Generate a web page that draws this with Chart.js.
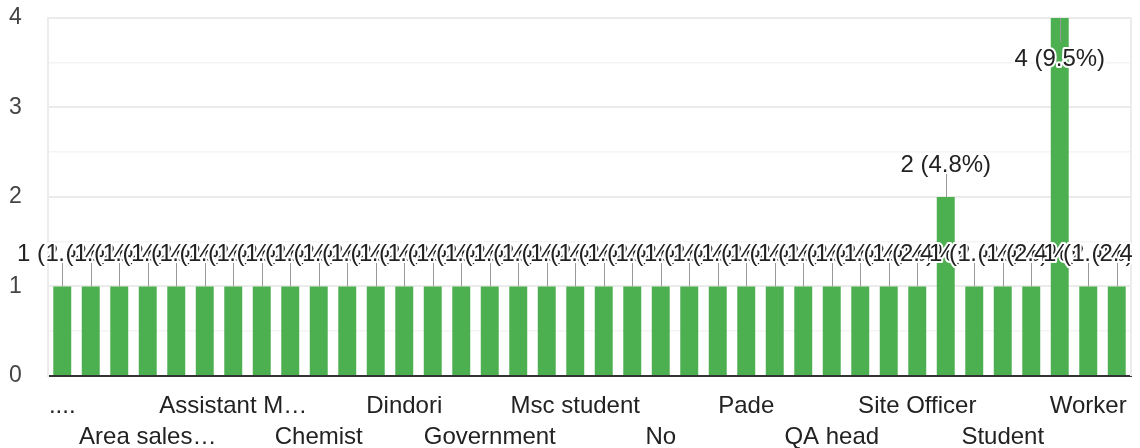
<!DOCTYPE html>
<html>
<head>
<meta charset="utf-8">
<script src="https://cdn.jsdelivr.net/npm/chart.js@4"></script>
<style>
  html, body { margin: 0; padding: 0; background: #fff; }
  #wrap { width: 1140px; height: 448px; position: relative; }
</style>
</head>
<body>
<div id="wrap"><canvas id="myChart"></canvas></div>
<script>
// respuestas (ordenadas alfabeticamente, solo cada tercera etiqueta se ve)
const categorias = [
    "....", "Accountant", "Agriculture", "Area sales…", "Assistant", "Assistant E…",
    "Assistant M…", "Business", "Businessman", "Chemist", "Clerk", "Developer",
    "Dindori", "Engineer", "Farmer", "Government", "Housewife", "Manager",
    "Msc student", "Nashik", "Nil", "No", "Nothing", "Officer",
    "Pade", "Private job", "Production", "QA head", "QC", "Sales",
    "Site Officer", "Software…", "Staff", "Student", "Supervisor", "Teacher",
    "Worker", "Working"
];
const conteos = [
    1, 1, 1, 1, 1, 1,
    1, 1, 1, 1, 1, 1,
    1, 1, 1, 1, 1, 1,
    1, 1, 1, 1, 1, 1,
    1, 1, 1, 1, 1, 1,
    1, 2, 1, 1, 1, 4,
    1, 1
];
const ticksY = [0, 1, 2, 3, 4];
const cadaEtiqueta = 3;

const total = conteos.reduce((a, b) => a + b, 0);
const fuente = "'Liberation Sans', Arial, sans-serif";

// etiquetas "n (x%)" encima de cada barra, con linea guia
const anotaciones = {
    id: "anotaciones",
    afterDatasetsDraw(chart) {
        const ctx = chart.ctx;
        const area = chart.chartArea;
        const meta = chart.getDatasetMeta(0);
        ctx.save();
        ctx.beginPath();
        ctx.rect(0, 0, area.right + 1, chart.height);
        ctx.clip();
        // lineas guia
        ctx.strokeStyle = "#999999";
        ctx.lineWidth = 1;
        meta.data.forEach((bar) => {
            const arriba = bar.y - 46 >= area.top;
            const x = Math.round(bar.x) + 0.5;
            ctx.beginPath();
            ctx.moveTo(x, bar.y);
            ctx.lineTo(x, arriba ? bar.y - 24 : bar.y + 24);
            ctx.stroke();
        });
        // textos
        ctx.font = "24px " + fuente;
        ctx.textAlign = "center";
        ctx.textBaseline = "middle";
        ctx.lineJoin = "round";
        meta.data.forEach((bar, i) => {
            const v = conteos[i];
            const texto = v + " (" + (v / total * 100).toFixed(1) + "%)";
            const arriba = bar.y - 46 >= area.top;
            const y = arriba ? bar.y - 32 : bar.y + 41;
            ctx.lineWidth = 4;
            ctx.strokeStyle = "#ffffff";
            ctx.strokeText(texto, bar.x, y);
            ctx.fillStyle = "#222222";
            ctx.fillText(texto, bar.x, y);
        });
        ctx.restore();
    }
};

// borde derecho del area
const bordeDerecho = {
    id: "bordeDerecho",
    beforeDatasetsDraw(chart) {
        const ctx = chart.ctx;
        const a = chart.chartArea;
        ctx.save();
        ctx.strokeStyle = "#ececec";
        ctx.lineWidth = 2;
        ctx.beginPath();
        ctx.moveTo(Math.round(a.right), a.top);
        ctx.lineTo(Math.round(a.right), a.bottom);
        ctx.stroke();
        ctx.restore();
    }
};

const config = {
    type: "bar",
    data: {
        labels: categorias,
        datasets: [{
            data: conteos,
            backgroundColor: "#4caf50",
            categoryPercentage: 1,
            barPercentage: 0.63
        }]
    },
    options: {
        responsive: true,
        maintainAspectRatio: false,
        devicePixelRatio: 1,
        animation: false,
        layout: { padding: { top: 0, right: 9, left: 9, bottom: 0 } },
        plugins: {
            legend: { display: false },
            tooltip: { enabled: false }
        },
        scales: {
            x: {
                grid: { display: false, drawTicks: false },
                border: { display: true, color: "#333333", width: 2 },
                afterFit(scale) { scale.height = 72; },
                ticks: {
                    autoSkip: false,
                    maxRotation: 0,
                    minRotation: 0,
                    padding: 15,
                    color: "#222222",
                    font: { family: fuente, size: 24, lineHeight: 1.29 },
                    callback(valor, i) {
                        if (i % cadaEtiqueta !== 0) return "";
                        const nombre = categorias[i];
                        return (i / cadaEtiqueta) % 2 === 0 ? [nombre, ""] : ["", nombre];
                    }
                }
            },
            y: {
                min: ticksY[0],
                max: ticksY[ticksY.length - 1],
                afterFit(scale) { scale.width = 39; },
                grid: {
                    drawTicks: false,
                    color: (c) => Number.isInteger(c.tick.value) ? "#ebebeb" : "#f4f4f4",
                    lineWidth: (c) => Number.isInteger(c.tick.value) ? 2 : 1.5
                },
                border: { display: true, color: "#ececec", width: 2 },
                ticks: {
                    stepSize: 0.5,
                    padding: 0,
                    crossAlign: "far",
                    color: "#444444",
                    font: { family: fuente, size: 23, lineHeight: 1.565 },
                    callback: (v) => ticksY.includes(v) ? v : ""
                }
            }
        }
    },
    plugins: [bordeDerecho, anotaciones]
};

const chart = new Chart(document.getElementById("myChart"), config);
</script>
</body>
</html>
